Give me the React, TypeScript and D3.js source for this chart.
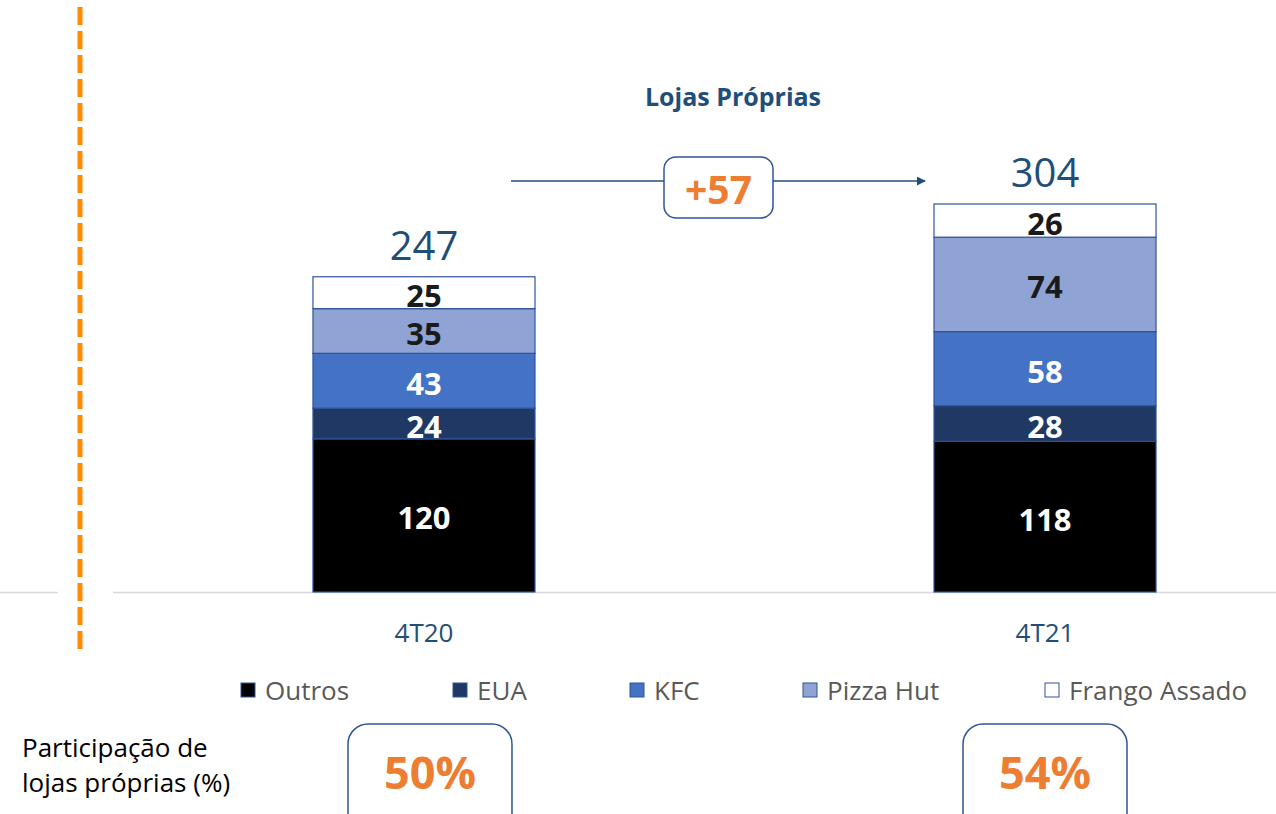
import React from "react";
import * as d3 from "d3";

const categories = ["4T20", "4T21"];
const seriesNames = ["Outros", "EUA", "KFC", "Pizza Hut", "Frango Assado"];
const outros = [120, 118];
const eua = [24, 28];
const kfc = [43, 58];
const pizzaHut = [35, 74];
const frangoAssado = [25, 26];
const totals = [247, 304];
const change = "+57";
const sharePct = ["50%", "54%"];
const title = "Lojas Próprias";

const colors = ["#000000", "#203864", "#4472C4", "#8FA3D4", "#FFFFFF"];
const labelColors = ["#FFFFFF", "#FFFFFF", "#FFFFFF", "#1a1a1a", "#1a1a1a"];
const FONT = "'Open Sans', Lato, sans-serif";

export default function App() {
  const W = 1276, H = 814;
  const baseY = 592;
  const x = d3.scaleBand<string>().domain(categories).range([113, 1356]).paddingInner(0.6425).paddingOuter(0.322);
  const y = d3.scaleLinear().domain([0, 304]).range([baseY, 204]);

  const rows = categories.map((c, i) => ({
    cat: c,
    Outros: outros[i], EUA: eua[i], KFC: kfc[i], "Pizza Hut": pizzaHut[i], "Frango Assado": frangoAssado[i],
  }));
  const stack = d3.stack<any>().keys(seriesNames)(rows);
  const bw = x.bandwidth();

  const legendX = [241, 453, 630, 803, 1045];
  const boxShift = [6, 0];

  return (
    <svg width={W} height={H} style={{ position: "absolute", left: 0, top: 0, background: "#fff" }} fontFamily={FONT}>
      {/* orange dashed divider */}
      <line x1={80} x2={80} y1={7} y2={655} stroke="#FF8C00" strokeWidth={5} strokeDasharray="18 6" />
      {/* axis baseline */}
      <line x1={0} x2={58} y1={baseY + 0.5} y2={baseY + 0.5} stroke="#D9D9D9" strokeWidth={1.5} />
      <line x1={113} x2={W} y1={baseY + 0.5} y2={baseY + 0.5} stroke="#D9D9D9" strokeWidth={1.5} />

      {/* title */}
      <text x={733} y={106} textAnchor="middle" fontSize={25} fontWeight={700} fill="#1F4E79">{title}</text>

      {/* bars */}
      {stack.map((s, si) => (
        <g key={s.key}>
          {s.map((d, i) => {
            const cat = categories[i];
            const y0 = y(d[0]), y1 = y(d[1]);
            return (
              <g key={cat}>
                <rect x={x(cat)!} y={y1} width={bw} height={y0 - y1} fill={colors[si]} stroke="#2F5597" strokeWidth={1.2} />
                <text x={x(cat)! + bw / 2} y={(y0 + y1) / 2 + 2} textAnchor="middle" dominantBaseline="central"
                  fontSize={31} fontWeight={700} fill={labelColors[si]}>{d[1] - d[0]}</text>
              </g>
            );
          })}
        </g>
      ))}

      {/* totals */}
      {categories.map((c, i) => (
        <text key={c} x={x(c)! + bw / 2} y={y(totals[i]) - 17} textAnchor="middle" fontSize={40} fill="#1F4E79">{totals[i]}</text>
      ))}

      {/* x labels */}
      {categories.map((c) => (
        <text key={c} x={x(c)! + bw / 2} y={642} textAnchor="middle" fontSize={26} fill="#1F4E79">{c}</text>
      ))}

      {/* change arrow */}
      <defs>
        <marker id="arr" viewBox="0 0 10 10" refX={9} refY={5} markerWidth={6} markerHeight={6} orient="auto">
          <path d="M0,0 L10,5 L0,10 z" fill="#1F4E79" />
        </marker>
      </defs>
      <line x1={511} x2={664} y1={181} y2={181} stroke="#1F4E79" strokeWidth={1.5} />
      <line x1={773} x2={925} y1={181} y2={181} stroke="#1F4E79" strokeWidth={1.5} markerEnd="url(#arr)" />
      <rect x={664} y={157} width={109} height={61} rx={12} fill="#fff" stroke="#2F5597" strokeWidth={1.5} />
      <text x={718.5} y={188} textAnchor="middle" dominantBaseline="central" fontSize={39} fontWeight={700} fill="#ED7D31">{change}</text>

      {/* legend */}
      {seriesNames.map((n, i) => (
        <g key={n}>
          <rect x={legendX[i]} y={683} width={14} height={14} fill={colors[i]} stroke="#2F5597" strokeWidth={1} />
          <text x={legendX[i] + 24} y={700} fontSize={26} fill="#595959">{n}</text>
        </g>
      ))}

      {/* share boxes */}
      <text x={22} y={757} fontSize={26} fill="#000">Participação de</text>
      <text x={22} y={792} fontSize={26} fill="#000">lojas próprias (%)</text>
      {categories.map((c, i) => (
        <g key={c}>
          <rect x={x(c)! + bw / 2 + boxShift[i] - 82} y={724} width={164} height={110} rx={20} fill="#fff" stroke="#2F5597" strokeWidth={1.5} />
          <text x={x(c)! + bw / 2 + boxShift[i]} y={771} textAnchor="middle" dominantBaseline="central" fontSize={45} fontWeight={700} fill="#ED7D31">{sharePct[i]}</text>
        </g>
      ))}
    </svg>
  );
}
